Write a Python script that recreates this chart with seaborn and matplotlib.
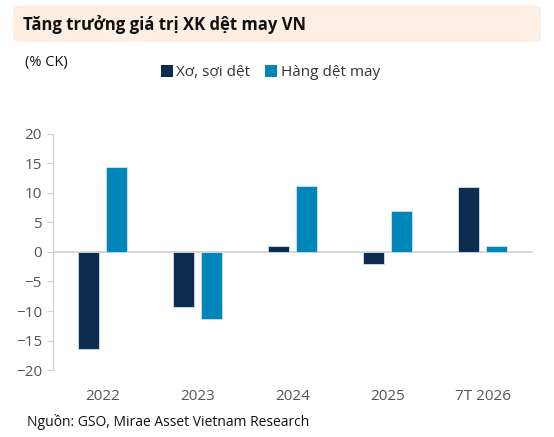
import pandas as pd
import numpy as np
import matplotlib
matplotlib.use("Agg")
import matplotlib.pyplot as plt
import seaborn as sns
from matplotlib.patches import FancyBboxPatch, Patch

# data
years = ["2022", "2023", "2024", "2025", "7T 2026"]
xo_soi = [-16.4, -9.3, 1.1, -2.1, 11.0]
hang_det_may = [14.4, -11.3, 11.1, 6.9, 1.0]
series_names = ["Xơ, sợi dệt", "Hàng dệt may"]
colors = ["#0C2D4F", "#0086B8"]

df = pd.DataFrame({
    "year": years * 2,
    "value": xo_soi + hang_det_may,
    "series": [series_names[0]] * len(years) + [series_names[1]] * len(years),
})

sns.set_style("white")
plt.rcParams["font.family"] = ["Open Sans", "DejaVu Sans"]

fig = plt.figure(figsize=(5.54, 4.37), dpi=100)
ax = fig.add_axes([0.0957, 0.1533, 0.8663, 0.5401])

sns.barplot(data=df, x="year", y="value", hue="series", palette=colors,
            saturation=1, width=0.58, gap=0.24, edgecolor="#cfe3ee",
            linewidth=0.6, legend=False, ax=ax)

ax.set_xlim(-0.52, 4.53)
ax.set_ylim(-20, 20)
ax.set_yticks(np.arange(-20, 21, 5))
ax.axhline(0, color="#d0d0d0", linewidth=1.2, zorder=0)
ax.set_xlabel("")
ax.set_ylabel("")
for s in ["top", "right", "bottom"]:
    ax.spines[s].set_visible(False)
ax.spines["left"].set_color("#d0d0d0")
ax.tick_params(axis="y", left=True, length=4, color="#d0d0d0", labelsize=11,
               labelcolor="#555555", pad=4)
ax.tick_params(axis="x", bottom=False, labelsize=11, labelcolor="#555555", pad=10)

# title box
box = FancyBboxPatch((0.0235, 0.904), 0.953, 0.083,
                     boxstyle="round,pad=0,rounding_size=0.012",
                     transform=fig.transFigure, facecolor="#FDEEE3",
                     edgecolor="none")
fig.patches.append(box)
fig.text(0.041, 0.945, "Tăng trưởng giá trị XK dệt may VN", fontsize=12,
         fontweight="bold", color="#111111", va="center", ha="left")

fig.text(0.045, 0.858, "(% CK)", fontsize=10.5, color="#111111",
         va="center", ha="left")

handles = [Patch(facecolor=c, edgecolor="none") for c in colors]
fig.legend(handles, series_names, loc="center left",
           bbox_to_anchor=(0.265, 0.834), ncol=2, frameon=False,
           fontsize=11, handlelength=0.8, handleheight=0.8,
           handletextpad=0.2, columnspacing=1.0, labelcolor="#333333")

fig.text(0.049, 0.034, "Nguồn: GSO, Mirae Asset Vietnam Research",
         fontsize=10, color="#111111", va="center", ha="left")

fig.savefig("out.png", dpi=100)
